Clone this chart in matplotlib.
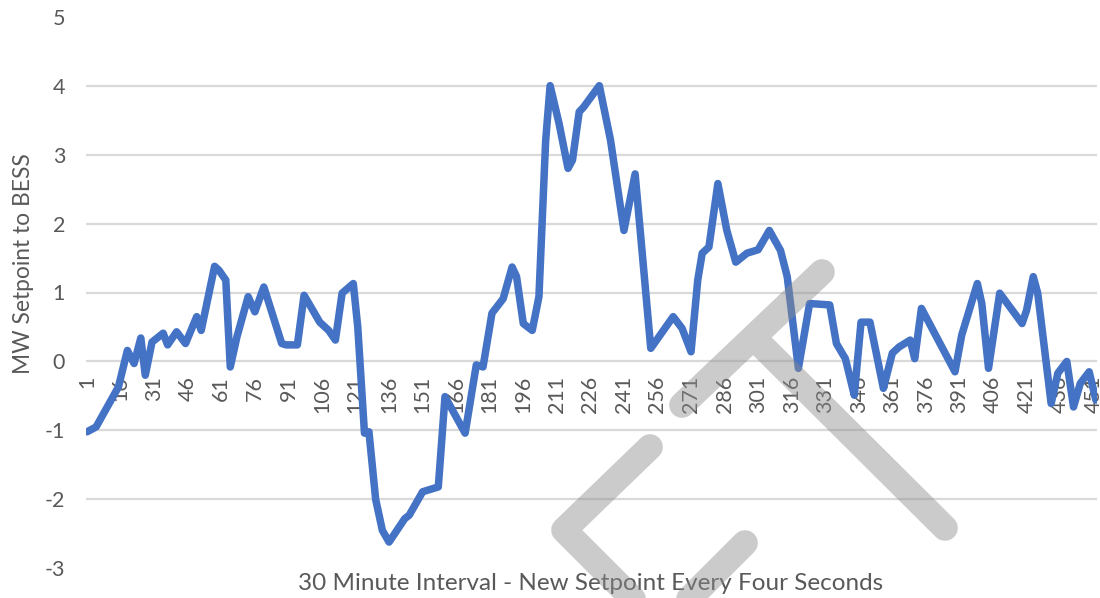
import numpy as np
import matplotlib
matplotlib.use("Agg")
import matplotlib.pyplot as plt

# ---- data (sample index -> MW setpoint) ----
sample_idx = [1, 5, 15, 19, 22, 25, 27, 30, 35, 37, 41, 45, 50, 52, 58, 60, 63, 65, 68, 73,
              76, 80, 88, 90, 95, 98, 105, 109, 112, 115, 120, 122, 125, 127, 130, 133, 136,
              143, 145, 151, 158, 161, 170, 175, 178, 182, 187, 191, 193, 196, 200, 203, 206,
              208, 212, 216, 218, 221, 223, 230, 235, 241, 246, 253, 263, 267, 271, 274, 276,
              279, 283, 287, 291, 296, 301, 306, 311, 314, 319, 324, 333, 336, 340, 344, 347,
              351, 357, 361, 364, 369, 371, 374, 389, 392, 399, 401, 404, 409, 419, 421, 424,
              426, 432, 435, 439, 442, 445, 449, 452]
mw_setpoint = [-1.02, -0.95, -0.37, 0.16, -0.03, 0.34, -0.20, 0.28, 0.41, 0.24, 0.43, 0.26,
               0.65, 0.45, 1.38, 1.32, 1.18, -0.08, 0.36, 0.94, 0.72, 1.08, 0.26, 0.24, 0.24,
               0.96, 0.57, 0.45, 0.31, 0.99, 1.13, 0.50, -1.04, -1.02, -2.00, -2.45, -2.62,
               -2.28, -2.23, -1.89, -1.82, -0.51, -1.04, -0.05, -0.08, 0.70, 0.91, 1.37, 1.23,
               0.55, 0.45, 0.94, 3.20, 4.00, 3.45, 2.80, 2.92, 3.62, 3.69, 4.00, 3.21, 1.90,
               2.72, 0.19, 0.65, 0.48, 0.14, 1.18, 1.57, 1.66, 2.58, 1.90, 1.44, 1.57, 1.62,
               1.90, 1.61, 1.23, -0.10, 0.84, 0.82, 0.26, 0.04, -0.49, 0.57, 0.57, -0.39, 0.12,
               0.21, 0.31, 0.04, 0.77, -0.15, 0.38, 1.13, 0.84, -0.10, 0.99, 0.55, 0.74, 1.23,
               0.99, -0.61, -0.17, 0.00, -0.66, -0.32, -0.15, -0.56]
n_samples = 452
x_tick_labels = [str(v) for v in range(1, 452, 15)]
y_tick_values = [-3, -2, -1, 0, 1, 2, 3, 4, 5]
grid_values = [-2, -1, 0, 1, 2, 3, 4]

FONT = ["Lato", "DejaVu Sans"]
TXT = "#595959"
plt.rcParams["font.family"] = FONT

W, H = 1100, 598
fig = plt.figure(figsize=(W / 100, H / 100), dpi=100)
ax = fig.add_axes([86 / W, 1 - 568.3 / H, (1097 - 86) / W, (568.3 - 16.7) / H])

ax.set_xlim(0.5, n_samples + 0.5)
ax.set_ylim(-3, 5)

for g in grid_values:
    ax.axhline(g, color="#D9D9D9", lw=1.6, zorder=1)

ax.plot(sample_idx, mw_setpoint, color="#4472C4", lw=5.4, solid_joinstyle="round",
        solid_capstyle="round", zorder=3)

for s in ax.spines.values():
    s.set_visible(False)
ax.spines["bottom"].set_position(("data", 0))

ax.set_yticks(y_tick_values)
ax.set_yticklabels([str(v) for v in y_tick_values])
ax.tick_params(axis="y", length=0, pad=15, labelsize=15.5, labelcolor=TXT)

ax.set_xticks([int(s) for s in x_tick_labels])
ax.set_xticklabels(x_tick_labels, rotation=90)
ax.tick_params(axis="x", length=0, pad=10.5, labelsize=15.5, labelcolor=TXT)

fig.text(24 / W, 1 - 264 / H, "MW Setpoint to BESS", rotation=90, ha="center", va="center",
         fontsize=16.4, color=TXT)
fig.text(591 / W, 1 - 584 / H, "30 Minute Interval - New Setpoint Every Four Seconds",
         ha="center", va="center", fontsize=17.5, color=TXT)

# watermark overlay (pixel coordinates)
ov = fig.add_axes([0, 0, 1, 1], zorder=10)
ov.set_xlim(0, W)
ov.set_ylim(H, 0)
ov.axis("off")
ov.patch.set_alpha(0)
wx = [822, 682, np.nan, 755, 945, np.nan, 650, 564, 645, np.nan, 745, 675]
wy = [272, 405, np.nan, 339, 528, np.nan, 447, 530, 611, np.nan, 543, 613]
ov.plot(wx, wy, color="#8C8C8C", alpha=0.45, lw=18.5, solid_capstyle="round",
        solid_joinstyle="round")

fig.savefig("out.png", dpi=100)
